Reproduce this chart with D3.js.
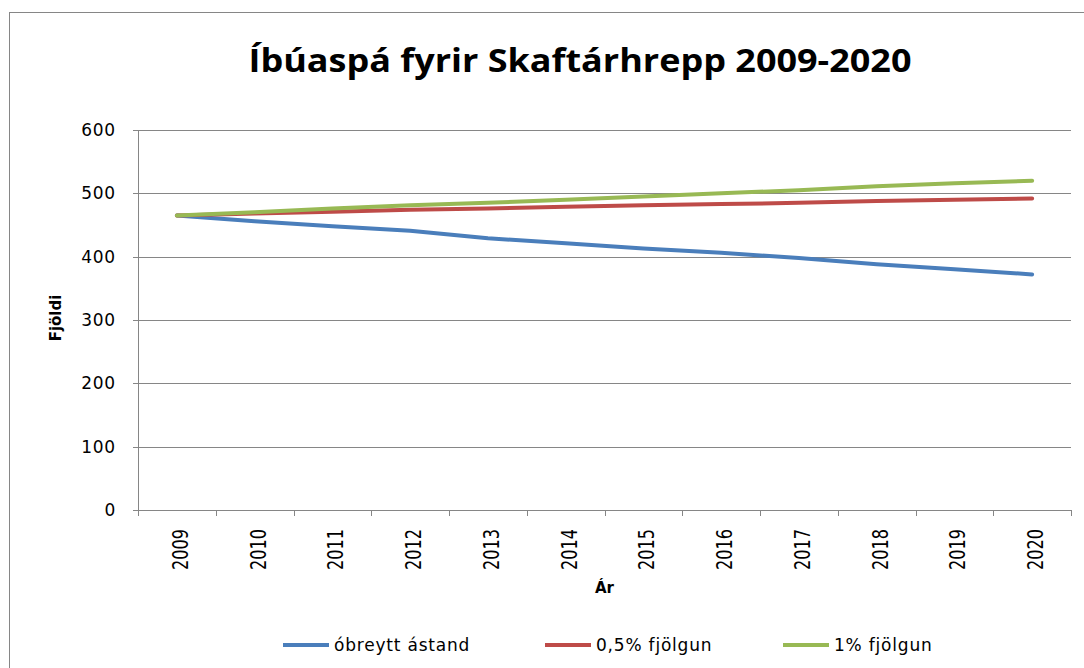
<!DOCTYPE html>
<html>
<head>
<meta charset="utf-8">
<script src="https://cdn.jsdelivr.net/npm/d3@7"></script>
<style>
body { margin: 0; background: #fff; }
svg { display: block; }
.grid line { stroke: #868686; stroke-width: 1px; shape-rendering: crispEdges; }
.tickLabel, .legLabel { font-family: 'DejaVu Sans', sans-serif; font-size: 17px; letter-spacing: 0.8px; fill: #000; }
.axisTitle { font-family: 'DejaVu Sans', sans-serif; font-size: 15px; font-weight: bold; fill: #000; }
</style>
</head>
<body>
<svg id="chart"></svg>
<script>
'use strict';
//Chart values.
const years = ['2009', '2010', '2011', '2012', '2013', '2014', '2015', '2016', '2017', '2018', '2019', '2020'];
const seriesNames = ['óbreytt ástand', '0,5% fjölgun', '1% fjölgun'];
const unchanged = [465, 456, 448, 441, 429, 421, 413, 406, 398, 388, 380, 372];
const growthHalf = [465, 468, 471, 474, 476, 479, 481, 483, 485, 488, 490, 492];
const growthOne = [465, 470, 476, 481, 485, 490, 495, 500, 505, 511, 516, 520];
const yTicks = [0, 100, 200, 300, 400, 500, 600];
const colors = ['#4a7ebb', '#be4b48', '#98b954'];
const title = 'Íbúaspá fyrir Skaftárhrepp 2009-2020';

const width = 1084;
const height = 668;
const svg = d3.select('#chart').attr('width', width).attr('height', height);

//Outer frame of the chart (runs past the bottom and right edges).
svg.append('rect')
	.attr('x', 9.5)
	.attr('y', 12.5)
	.attr('width', 1090)
	.attr('height', 700)
	.style('fill', 'none')
	.style('stroke', '#868686')
	.style('stroke-width', '1px');

//Plot area.
const pL = 138, pR = 1071, pT = 130, pB = 510;
const x = d3.scaleBand().domain(years).range([pL, pR]);
const y = d3.scaleLinear().domain([0, 600]).range([pB, pT]);

//Horizontal grid lines, including the one at 0, plus the little ticks left of the axis.
const grid = svg.append('g').attr('class', 'grid');
grid.selectAll('line.h')
	.data(yTicks)
	.enter().append('line')
	.attr('class', 'h')
	.attr('x1', pL - 5)
	.attr('x2', pR)
	.attr('y1', d => Math.round(y(d)) + 0.5)
	.attr('y2', d => Math.round(y(d)) + 0.5);
//Vertical axis line.
grid.append('line')
	.attr('x1', pL + 0.5).attr('x2', pL + 0.5)
	.attr('y1', pT).attr('y2', pB + 6);
//Ticks between categories on the x axis.
const bounds = years.map(d => x(d)).concat([pR]);
grid.selectAll('line.v')
	.data(bounds.slice(1))
	.enter().append('line')
	.attr('class', 'v')
	.attr('x1', d => Math.round(d) + 0.5)
	.attr('x2', d => Math.round(d) + 0.5)
	.attr('y1', pB)
	.attr('y2', pB + 6);

//Y tick labels.
svg.selectAll('text.yLab')
	.data(yTicks)
	.enter().append('text')
	.attr('class', 'tickLabel yLab')
	.attr('x', 116)
	.attr('y', d => y(d))
	.attr('dy', '0.36em')
	.attr('text-anchor', 'end')
	.text(d => d);

//Year labels, rotated.
svg.selectAll('text.xLab')
	.data(years)
	.enter().append('text')
	.attr('class', 'xLab')
	.attr('transform', d => 'translate(' + (x(d) + x.bandwidth() / 2 + 3) + ',529) rotate(-90)')
	.attr('text-anchor', 'end')
	.attr('dy', '0.36em')
	.attr('textLength', 41)
	.attr('lengthAdjust', 'spacingAndGlyphs')
	.style('font-family', "'DejaVu Sans', sans-serif")
	.style('font-size', '22px')
	.text(d => d);

//Axis titles.
svg.append('text')
	.attr('class', 'axisTitle')
	.attr('x', (pL + pR) / 2)
	.attr('y', 593)
	.attr('text-anchor', 'middle')
	.text('Ár');
svg.append('text')
	.attr('class', 'axisTitle')
	.attr('transform', 'translate(61,318) rotate(-90)')
	.attr('text-anchor', 'middle')
	.text('Fjöldi');

//Title.
svg.append('text')
	.attr('x', 580)
	.attr('y', 72)
	.attr('text-anchor', 'middle')
	.attr('textLength', 663)
	.attr('lengthAdjust', 'spacingAndGlyphs')
	.style('font-family', "'Open Sans', sans-serif")
	.style('font-weight', 'bold')
	.style('font-size', '33px')
	.text(title);

//Lines: blue first, green last so it ends on top.
const series = [unchanged, growthHalf, growthOne];
const line = d3.line()
	.x((d, i) => x(years[i]) + x.bandwidth() / 2)
	.y(d => y(d));
svg.selectAll('path.series')
	.data(series)
	.enter().append('path')
	.attr('class', 'series')
	.attr('d', line)
	.style('fill', 'none')
	.style('stroke', (d, i) => colors[i])
	.style('stroke-width', '4px')
	.style('stroke-linecap', 'round')
	.style('stroke-linejoin', 'round');

//Legend.
const legX = [283, 545, 783];
const leg = svg.selectAll('g.leg')
	.data(seriesNames)
	.enter().append('g')
	.attr('class', 'leg')
	.attr('transform', (d, i) => 'translate(' + legX[i] + ',645)');
leg.append('line')
	.attr('x1', 0).attr('x2', 46)
	.attr('y1', 0).attr('y2', 0)
	.style('stroke', (d, i) => colors[i])
	.style('stroke-width', '4px');
leg.append('text')
	.attr('class', 'legLabel')
	.attr('x', 51)
	.attr('dy', '0.36em')
	.text(d => d);
</script>
</body>
</html>
